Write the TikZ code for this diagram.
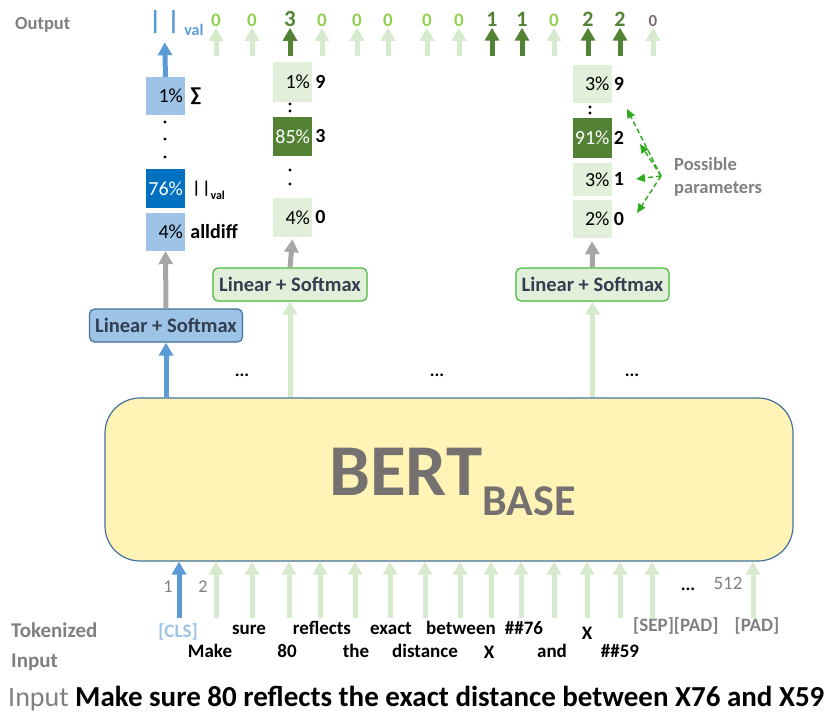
\documentclass[tikz,border=0pt]{standalone}
\usepackage{fontspec}
\setmainfont{Carlito}
\usetikzlibrary{positioning}
\usetikzlibrary{arrows.meta}

\definecolor{clsblue}{HTML}{5B9BD5}
\definecolor{paleblue}{HTML}{9DC3E6}
\definecolor{deepblue}{HTML}{0070C0}
\definecolor{edgeblue}{HTML}{41719C}
\definecolor{palegreen}{HTML}{E2EFDA}
\definecolor{arrowgreen}{HTML}{D6EACE}
\definecolor{deepgreen}{HTML}{548235}
\definecolor{limegreen}{HTML}{92D050}
\definecolor{edgegreen}{HTML}{47B838}
\definecolor{dashgreen}{HTML}{2EAA1E}
\definecolor{labelgray}{HTML}{808080}
\definecolor{arrowgray}{HTML}{A6A6A6}
\definecolor{slatetext}{HTML}{333F50}
\definecolor{bertgray}{HTML}{767171}
\definecolor{bertfill}{HTML}{FFF4B5}

\tikzset{
 blockarrow/.style={line width=5pt,-{Triangle[width=14pt,length=13pt]}},
 probbox/.style={minimum width=39pt,minimum height=38pt,inner sep=0pt,text width=35pt,align=right,font=\fontsize{20}{20}\selectfont},
 plabel/.style={inner sep=1pt,font=\bfseries\fontsize{20}{20}\selectfont},
 linbox/.style={rounded corners=5pt,line width=1.2pt,minimum width=153pt,minimum height=33pt,inner sep=0pt,text=slatetext,font=\bfseries\fontsize{20.5}{20.5}\selectfont},
 sidelabel/.style={anchor=west,align=left,inner sep=0pt,text=labelgray,font=\bfseries\fontsize{18.5}{22.5}\selectfont},
 token/.style={anchor=base,inner sep=0pt,font=\bfseries\fontsize{19}{19}\selectfont},
 dashtip/.style={dashed,dash pattern=on 5pt off 3pt,line width=1.4pt,dashgreen,-{Triangle[width=8pt,length=9pt]}}
}

\begin{document}
\begin{tikzpicture}[x=1pt,y=-1pt]
 \useasboundingbox (0,0) rectangle (837,714);

 % BERT encoder
 \node[draw=edgeblue,line width=1.2pt,fill=bertfill,rounded corners=35pt,minimum width=688pt,minimum height=163pt] (bert) at (449,479.5) {};
 \node[anchor=base west,inner sep=0pt,text=bertgray,font=\bfseries\fontsize{73}{73}\selectfont] (berttitle) at (329,495) {BERT\raisebox{-20pt}{\fontsize{44}{44}\selectfont BASE}};

 % input tokens
 \foreach \x [count=\i] in {216,252,289,320,355,390,425,460,491,521,554,587,620,652,753}{
   \coordinate (tok\i) at (\x,618);
   \draw[blockarrow,arrowgreen] (tok\i) -- (tok\i |- bert.south);
 }
 \coordinate (tokcls) at (179,618);
 \draw[blockarrow,clsblue] (tokcls) -- (tokcls |- bert.south);

 \node[text=labelgray,font=\fontsize{18}{18}\selectfont] (pos1) at (168,587) {1};
 \node[text=labelgray,font=\fontsize{18}{18}\selectfont] (pos2) at (203,587) {2};
 \node[text=labelgray,font=\fontsize{19}{19}\selectfont] (pos512) at (728,583) {512};
 \node[font=\bfseries\fontsize{18}{18}\selectfont] (tailgap) at (688,589) {...};

 \node[token,text=paleblue] (wcls) at (178,637) {[CLS]};
 \node[token] (wsure) at (249,634) {sure};
 \node[token] (wreflects) at (322,634) {reflects};
 \node[token] (wexact) at (391,634) {exact};
 \node[token] (wbetween) at (461,634) {between};
 \node[token] (w76) at (524,634) {\#\#76};
 \node[token] (wxa) at (587,639) {X};
 \node[token,anchor=base west,text=labelgray] (wsep) at (633,631) {[SEP][PAD]};
 \node[token,text=labelgray] (wpad) at (757,631) {[PAD]};
 \node[token] (wmake) at (210,657) {Make};
 \node[token] (w80) at (287,657) {80};
 \node[token] (wthe) at (356,657) {the};
 \node[token] (wdistance) at (425,657) {distance};
 \node[token] (wxb) at (489,658) {X};
 \node[token] (wand) at (552,657) {and};
 \node[token] (w59) at (620,657) {\#\#59};

 \node[sidelabel,font=\bfseries\fontsize{21}{30}\selectfont] (toklabel) at (11,647) {Tokenized\\Input};
 \node[anchor=base west,inner sep=0pt,text=labelgray,font=\fontsize{28}{28}\selectfont] (inlabel) at (8,706) {Input};
 \node[anchor=base west,inner sep=0pt,font=\bfseries\fontsize{29}{29}\selectfont] (sentence) at (75,706) {Make sure 80 reflects the exact distance between X76 and X59};

 % gaps above the encoder
 \node[font=\bfseries\fontsize{18}{18}\selectfont] (gapa) at (242,375) {...};
 \node[font=\bfseries\fontsize{18}{18}\selectfont] (gapb) at (437,375) {...};
 \node[font=\bfseries\fontsize{18}{18}\selectfont] (gapc) at (632,375) {...};

 % classification head
 \node[linbox,draw=edgeblue,fill=paleblue] (linblue) at (166,325.5) {Linear + Softmax};
 \node[probbox,fill=paleblue] (cls4) at (165.5,232) {4\%};
 \node[probbox,fill=deepblue,text=white,minimum height=39pt] (cls76) at (165.5,188.5) {76\%};
 \node[probbox,fill=paleblue] (cls1) at (165.5,96) {1\%};
 \foreach \y in {122,139,157} \fill (165,\y) circle (1.6);
 \node[plabel,right=4pt of cls4] (lalldiff) {alldiff};
 \node[plabel,right=6pt of cls76,yshift=-2pt] (lval) {{\fontsize{17}{17}\selectfont|\kern2pt|}\raisebox{-6pt}{\fontsize{12}{12}\selectfont val}};
 \node[plabel,right=4pt of cls1] (lsum) {∑};

 \draw[blockarrow,clsblue] (linblue.north |- bert.north) -- (linblue.south);
 \draw[blockarrow,arrowgray] (linblue.north) -- (cls4.south);

 % first parameter head
 \node[linbox,draw=edgegreen,fill=palegreen,minimum width=154pt] (lingreena) at (290,284.5) {Linear + Softmax};
 \node[probbox,fill=palegreen,minimum height=39pt] (pa0) at (292.5,217.5) {4\%};
 \node[probbox,fill=deepgreen,text=white,minimum height=39pt] (pa3) at (292.5,136.5) {85\%};
 \node[probbox,fill=palegreen,minimum height=40pt] (pa9) at (292.5,82) {1\%};
 \foreach \y in {104,111,170,184} \fill (290,\y) circle (1.6);
 \node[plabel,right=2pt of pa0] (la0) {0};
 \node[plabel,right=2pt of pa3] (la3) {3};
 \node[plabel,right=2pt of pa9] (la9) {9};

 \draw[blockarrow,arrowgreen] (lingreena.north |- bert.north) -- (lingreena.south);
 \draw[blockarrow,arrowgray] (lingreena.north) -- ([yshift=-2pt]pa0.south);

 % second parameter head
 \node[linbox,draw=edgegreen,fill=palegreen] (lingreenb) at (592.5,284.5) {Linear + Softmax};
 \node[probbox,fill=palegreen] (pb0) at (592,219) {2\%};
 \node[probbox,fill=palegreen,minimum height=33pt] (pb1) at (592,179.5) {3\%};
 \node[probbox,fill=deepgreen,text=white,minimum height=40pt] (pb2) at (592,138) {91\%};
 \node[probbox,fill=palegreen] (pb9) at (592,84) {3\%};
 \foreach \y in {107,113} \fill (590,\y) circle (1.6);
 \node[plabel,right=1pt of pb0] (lb0) {0};
 \node[plabel,right=1pt of pb1] (lb1) {1};
 \node[plabel,right=1pt of pb2] (lb2) {2};
 \node[plabel,right=1pt of pb9] (lb9) {9};

 \draw[blockarrow,arrowgreen] (lingreenb.north |- bert.north) -- (lingreenb.south);
 \draw[blockarrow,arrowgray] (lingreenb.north) -- ([yshift=-3pt]pb0.south);

 % possible parameters
 \node[sidelabel] (possible) at (674,177) {Possible\\parameters};
 \coordinate (fork) at (661,176);
 \coordinate (tip9) at (627,109);
 \coordinate (tip2) at (640,144);
 \coordinate (tip1) at (636,179);
 \coordinate (tip0) at (637,213);
 \draw[dashtip] (fork) -- (tip9);
 \draw[dashtip] (fork) -- (tip2);
 \draw[dashtip] (fork) -- (tip1);
 \draw[dashtip] (fork) -- (tip0);

 % output row
 \node[anchor=west,inner sep=0pt,text=labelgray,font=\bfseries\fontsize{18.5}{18.5}\selectfont] (outlabel) at (15,25) {Output};
 \node[inner sep=0pt,text=clsblue,font=\bfseries\fontsize{26}{26}\selectfont] (valbars) at (164.5,22.5) {|\kern6pt|};
 \node[anchor=south west,inner sep=0pt,text=clsblue,font=\bfseries\fontsize{16}{16}\selectfont] (valsub) at ([xshift=4pt,yshift=-2pt]valbars.south east) {val};
 \draw[blockarrow,clsblue,shorten >=8pt] (cls1.north) -- (valbars.south);

 \foreach \x/\d/\c/\s/\a [count=\i] in {216/0/limegreen/19/arrowgreen,252/0/limegreen/19/arrowgreen,290/3/deepgreen/23/deepgreen,322/0/limegreen/19/arrowgreen,357/0/limegreen/19/arrowgreen,388/0/limegreen/19/arrowgreen,427/0/limegreen/19/arrowgreen,459/0/limegreen/19/arrowgreen,492/1/deepgreen/22/deepgreen,522/1/deepgreen/22/deepgreen,554/0/limegreen/19/arrowgreen,588/2/deepgreen/22/deepgreen,620/2/deepgreen/22/deepgreen,653/0/bertgray/17/arrowgreen}{
   \node[anchor=base,inner sep=1pt,text=\c,font=\bfseries\fontsize{\s}{\s}\selectfont] (dig\i) at (\x,26.5) {\d};
   \coordinate (digfoot\i) at (\x,56);
   \draw[blockarrow,\a] (digfoot\i) -- (dig\i.south);
 }
\end{tikzpicture}
\end{document}
